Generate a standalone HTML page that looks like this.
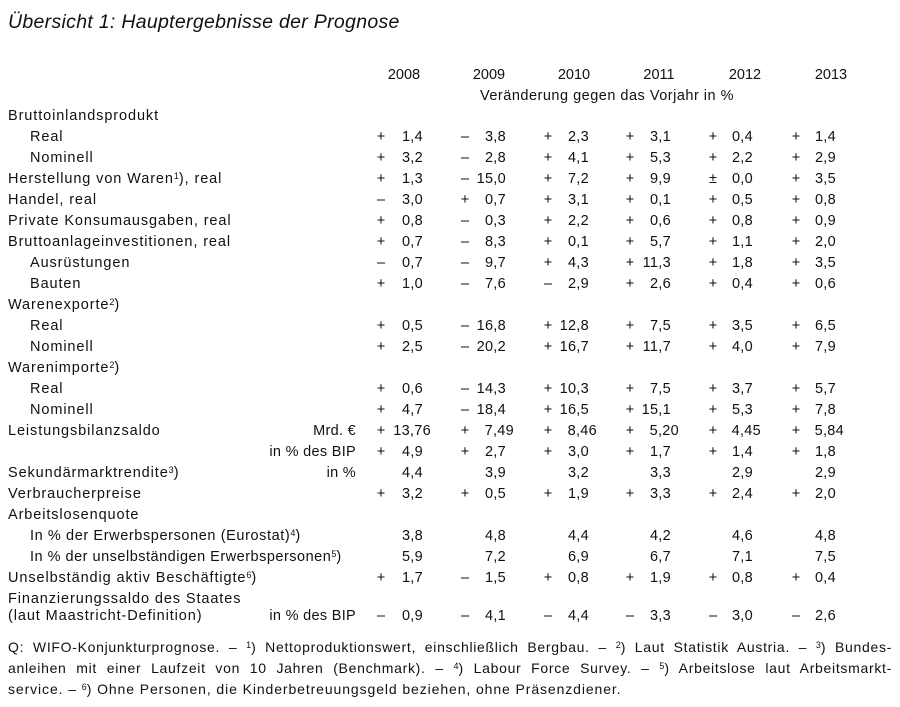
<!DOCTYPE html>
<html><head><meta charset="utf-8"><style>
body{margin:0;width:900px;height:707px;background:#fff;position:relative;overflow:hidden;font-family:"Liberation Sans",sans-serif;color:#111;font-size:14.5px}
div{position:absolute;white-space:nowrap;line-height:18px}
.t{left:8px;top:13px;font-size:19.5px;font-style:italic;letter-spacing:0.3px}
.l{left:8px;letter-spacing:0.9px}.i{left:30px;letter-spacing:0.9px}
.m{right:544px;text-align:right;letter-spacing:0.3px}
.y{width:60px;text-align:center;top:66px}
.s{width:14px;text-align:center}
.n{width:60px;text-align:right;letter-spacing:0.3px}
sup{font-size:9px;vertical-align:4px;line-height:0;letter-spacing:0}
.f{left:8px;width:884px;font-size:14px;text-align:justify;text-align-last:justify;letter-spacing:0.7px}
</style></head><body>
<div class="t">Übersicht 1: Hauptergebnisse der Prognose</div>
<div class="y" style="left:374px">2008</div>
<div class="y" style="left:459px">2009</div>
<div class="y" style="left:544px">2010</div>
<div class="y" style="left:629px">2011</div>
<div class="y" style="left:715px">2012</div>
<div class="y" style="left:801px">2013</div>
<div style="left:480px;top:87px;letter-spacing:0.5px">Veränderung gegen das Vorjahr in %</div>

<div class="l" style="top:107px">Bruttoinlandsprodukt</div>
<div class="i" style="top:128px">Real</div>
<div class="i" style="top:149px">Nominell</div>
<div class="l" style="top:170px">Herstellung von Waren<sup>1</sup>), real</div>
<div class="l" style="top:191px">Handel, real</div>
<div class="l" style="top:212px">Private Konsumausgaben, real</div>
<div class="l" style="top:233px">Bruttoanlageinvestitionen, real</div>
<div class="i" style="top:254px">Ausrüstungen</div>
<div class="i" style="top:275px">Bauten</div>
<div class="l" style="top:296px">Warenexporte<sup>2</sup>)</div>
<div class="i" style="top:317px">Real</div>
<div class="i" style="top:338px">Nominell</div>
<div class="l" style="top:359px">Warenimporte<sup>2</sup>)</div>
<div class="i" style="top:380px">Real</div>
<div class="i" style="top:401px">Nominell</div>
<div class="l" style="top:422px">Leistungsbilanzsaldo</div>
<div class="m" style="top:422px">Mrd. €</div>
<div class="m" style="top:443px">in % des BIP</div>
<div class="l" style="top:464px">Sekundärmarktrendite<sup>3</sup>)</div>
<div class="m" style="top:464px">in %</div>
<div class="l" style="top:485px">Verbraucherpreise</div>
<div class="l" style="top:506px">Arbeitslosenquote</div>
<div class="i" style="top:527px;letter-spacing:0.6px">In % der Erwerbspersonen (Eurostat)<sup>4</sup>)</div>
<div class="i" style="top:548px;letter-spacing:0.5px">In % der unselbständigen Erwerbspersonen<sup>5</sup>)</div>
<div class="l" style="top:569px">Unselbständig aktiv Beschäftigte<sup>6</sup>)</div>
<div class="l" style="top:590px">Finanzierungssaldo des Staates</div>
<div class="l" style="top:607px">(laut Maastricht-Definition)</div>
<div class="m" style="top:607px">in % des BIP</div>

<div style="top:128px;left:0;width:900px;height:20px"><div class="s" style="left:374px">+</div><div class="n" style="left:363px">1,4</div><div class="s" style="left:458px">–</div><div class="n" style="left:446px">3,8</div><div class="s" style="left:541px">+</div><div class="n" style="left:529px">2,3</div><div class="s" style="left:623px">+</div><div class="n" style="left:611px">3,1</div><div class="s" style="left:706px">+</div><div class="n" style="left:693px">0,4</div><div class="s" style="left:789px">+</div><div class="n" style="left:776px">1,4</div></div>
<div style="top:149px;left:0;width:900px;height:20px"><div class="s" style="left:374px">+</div><div class="n" style="left:363px">3,2</div><div class="s" style="left:458px">–</div><div class="n" style="left:446px">2,8</div><div class="s" style="left:541px">+</div><div class="n" style="left:529px">4,1</div><div class="s" style="left:623px">+</div><div class="n" style="left:611px">5,3</div><div class="s" style="left:706px">+</div><div class="n" style="left:693px">2,2</div><div class="s" style="left:789px">+</div><div class="n" style="left:776px">2,9</div></div>
<div style="top:170px;left:0;width:900px;height:20px"><div class="s" style="left:374px">+</div><div class="n" style="left:363px">1,3</div><div class="s" style="left:458px">–</div><div class="n" style="left:446px">15,0</div><div class="s" style="left:541px">+</div><div class="n" style="left:529px">7,2</div><div class="s" style="left:623px">+</div><div class="n" style="left:611px">9,9</div><div class="s" style="left:706px">±</div><div class="n" style="left:693px">0,0</div><div class="s" style="left:789px">+</div><div class="n" style="left:776px">3,5</div></div>
<div style="top:191px;left:0;width:900px;height:20px"><div class="s" style="left:374px">–</div><div class="n" style="left:363px">3,0</div><div class="s" style="left:458px">+</div><div class="n" style="left:446px">0,7</div><div class="s" style="left:541px">+</div><div class="n" style="left:529px">3,1</div><div class="s" style="left:623px">+</div><div class="n" style="left:611px">0,1</div><div class="s" style="left:706px">+</div><div class="n" style="left:693px">0,5</div><div class="s" style="left:789px">+</div><div class="n" style="left:776px">0,8</div></div>
<div style="top:212px;left:0;width:900px;height:20px"><div class="s" style="left:374px">+</div><div class="n" style="left:363px">0,8</div><div class="s" style="left:458px">–</div><div class="n" style="left:446px">0,3</div><div class="s" style="left:541px">+</div><div class="n" style="left:529px">2,2</div><div class="s" style="left:623px">+</div><div class="n" style="left:611px">0,6</div><div class="s" style="left:706px">+</div><div class="n" style="left:693px">0,8</div><div class="s" style="left:789px">+</div><div class="n" style="left:776px">0,9</div></div>
<div style="top:233px;left:0;width:900px;height:20px"><div class="s" style="left:374px">+</div><div class="n" style="left:363px">0,7</div><div class="s" style="left:458px">–</div><div class="n" style="left:446px">8,3</div><div class="s" style="left:541px">+</div><div class="n" style="left:529px">0,1</div><div class="s" style="left:623px">+</div><div class="n" style="left:611px">5,7</div><div class="s" style="left:706px">+</div><div class="n" style="left:693px">1,1</div><div class="s" style="left:789px">+</div><div class="n" style="left:776px">2,0</div></div>
<div style="top:254px;left:0;width:900px;height:20px"><div class="s" style="left:374px">–</div><div class="n" style="left:363px">0,7</div><div class="s" style="left:458px">–</div><div class="n" style="left:446px">9,7</div><div class="s" style="left:541px">+</div><div class="n" style="left:529px">4,3</div><div class="s" style="left:623px">+</div><div class="n" style="left:611px">11,3</div><div class="s" style="left:706px">+</div><div class="n" style="left:693px">1,8</div><div class="s" style="left:789px">+</div><div class="n" style="left:776px">3,5</div></div>
<div style="top:275px;left:0;width:900px;height:20px"><div class="s" style="left:374px">+</div><div class="n" style="left:363px">1,0</div><div class="s" style="left:458px">–</div><div class="n" style="left:446px">7,6</div><div class="s" style="left:541px">–</div><div class="n" style="left:529px">2,9</div><div class="s" style="left:623px">+</div><div class="n" style="left:611px">2,6</div><div class="s" style="left:706px">+</div><div class="n" style="left:693px">0,4</div><div class="s" style="left:789px">+</div><div class="n" style="left:776px">0,6</div></div>
<div style="top:317px;left:0;width:900px;height:20px"><div class="s" style="left:374px">+</div><div class="n" style="left:363px">0,5</div><div class="s" style="left:458px">–</div><div class="n" style="left:446px">16,8</div><div class="s" style="left:541px">+</div><div class="n" style="left:529px">12,8</div><div class="s" style="left:623px">+</div><div class="n" style="left:611px">7,5</div><div class="s" style="left:706px">+</div><div class="n" style="left:693px">3,5</div><div class="s" style="left:789px">+</div><div class="n" style="left:776px">6,5</div></div>
<div style="top:338px;left:0;width:900px;height:20px"><div class="s" style="left:374px">+</div><div class="n" style="left:363px">2,5</div><div class="s" style="left:458px">–</div><div class="n" style="left:446px">20,2</div><div class="s" style="left:541px">+</div><div class="n" style="left:529px">16,7</div><div class="s" style="left:623px">+</div><div class="n" style="left:611px">11,7</div><div class="s" style="left:706px">+</div><div class="n" style="left:693px">4,0</div><div class="s" style="left:789px">+</div><div class="n" style="left:776px">7,9</div></div>
<div style="top:380px;left:0;width:900px;height:20px"><div class="s" style="left:374px">+</div><div class="n" style="left:363px">0,6</div><div class="s" style="left:458px">–</div><div class="n" style="left:446px">14,3</div><div class="s" style="left:541px">+</div><div class="n" style="left:529px">10,3</div><div class="s" style="left:623px">+</div><div class="n" style="left:611px">7,5</div><div class="s" style="left:706px">+</div><div class="n" style="left:693px">3,7</div><div class="s" style="left:789px">+</div><div class="n" style="left:776px">5,7</div></div>
<div style="top:401px;left:0;width:900px;height:20px"><div class="s" style="left:374px">+</div><div class="n" style="left:363px">4,7</div><div class="s" style="left:458px">–</div><div class="n" style="left:446px">18,4</div><div class="s" style="left:541px">+</div><div class="n" style="left:529px">16,5</div><div class="s" style="left:623px">+</div><div class="n" style="left:611px">15,1</div><div class="s" style="left:706px">+</div><div class="n" style="left:693px">5,3</div><div class="s" style="left:789px">+</div><div class="n" style="left:776px">7,8</div></div>
<div style="top:422px;left:0;width:900px;height:20px"><div class="s" style="left:374px">+</div><div class="n" style="left:371px">13,76</div><div class="s" style="left:458px">+</div><div class="n" style="left:454px">7,49</div><div class="s" style="left:541px">+</div><div class="n" style="left:537px">8,46</div><div class="s" style="left:623px">+</div><div class="n" style="left:619px">5,20</div><div class="s" style="left:706px">+</div><div class="n" style="left:701px">4,45</div><div class="s" style="left:789px">+</div><div class="n" style="left:784px">5,84</div></div>
<div style="top:443px;left:0;width:900px;height:20px"><div class="s" style="left:374px">+</div><div class="n" style="left:363px">4,9</div><div class="s" style="left:458px">+</div><div class="n" style="left:446px">2,7</div><div class="s" style="left:541px">+</div><div class="n" style="left:529px">3,0</div><div class="s" style="left:623px">+</div><div class="n" style="left:611px">1,7</div><div class="s" style="left:706px">+</div><div class="n" style="left:693px">1,4</div><div class="s" style="left:789px">+</div><div class="n" style="left:776px">1,8</div></div>
<div style="top:464px;left:0;width:900px;height:20px"><div class="n" style="left:363px">4,4</div><div class="n" style="left:446px">3,9</div><div class="n" style="left:529px">3,2</div><div class="n" style="left:611px">3,3</div><div class="n" style="left:693px">2,9</div><div class="n" style="left:776px">2,9</div></div>
<div style="top:485px;left:0;width:900px;height:20px"><div class="s" style="left:374px">+</div><div class="n" style="left:363px">3,2</div><div class="s" style="left:458px">+</div><div class="n" style="left:446px">0,5</div><div class="s" style="left:541px">+</div><div class="n" style="left:529px">1,9</div><div class="s" style="left:623px">+</div><div class="n" style="left:611px">3,3</div><div class="s" style="left:706px">+</div><div class="n" style="left:693px">2,4</div><div class="s" style="left:789px">+</div><div class="n" style="left:776px">2,0</div></div>
<div style="top:527px;left:0;width:900px;height:20px"><div class="n" style="left:363px">3,8</div><div class="n" style="left:446px">4,8</div><div class="n" style="left:529px">4,4</div><div class="n" style="left:611px">4,2</div><div class="n" style="left:693px">4,6</div><div class="n" style="left:776px">4,8</div></div>
<div style="top:548px;left:0;width:900px;height:20px"><div class="n" style="left:363px">5,9</div><div class="n" style="left:446px">7,2</div><div class="n" style="left:529px">6,9</div><div class="n" style="left:611px">6,7</div><div class="n" style="left:693px">7,1</div><div class="n" style="left:776px">7,5</div></div>
<div style="top:569px;left:0;width:900px;height:20px"><div class="s" style="left:374px">+</div><div class="n" style="left:363px">1,7</div><div class="s" style="left:458px">–</div><div class="n" style="left:446px">1,5</div><div class="s" style="left:541px">+</div><div class="n" style="left:529px">0,8</div><div class="s" style="left:623px">+</div><div class="n" style="left:611px">1,9</div><div class="s" style="left:706px">+</div><div class="n" style="left:693px">0,8</div><div class="s" style="left:789px">+</div><div class="n" style="left:776px">0,4</div></div>
<div style="top:607px;left:0;width:900px;height:20px"><div class="s" style="left:374px">–</div><div class="n" style="left:363px">0,9</div><div class="s" style="left:458px">–</div><div class="n" style="left:446px">4,1</div><div class="s" style="left:541px">–</div><div class="n" style="left:529px">4,4</div><div class="s" style="left:623px">–</div><div class="n" style="left:611px">3,3</div><div class="s" style="left:706px">–</div><div class="n" style="left:693px">3,0</div><div class="s" style="left:789px">–</div><div class="n" style="left:776px">2,6</div></div>

<div class="f" style="top:638px">Q: WIFO-Konjunkturprognose. – <sup>1</sup>) Nettoproduktionswert, einschließlich Bergbau. – <sup>2</sup>) Laut Statistik Austria. – <sup>3</sup>) Bundes-</div>
<div class="f" style="top:659px">anleihen mit einer Laufzeit von 10 Jahren (Benchmark). – <sup>4</sup>) Labour Force Survey. – <sup>5</sup>) Arbeitslose laut Arbeitsmarkt-</div>
<div style="left:8px;top:680px;font-size:14px;letter-spacing:0.9px">service. – <sup>6</sup>) Ohne Personen, die Kinderbetreuungsgeld beziehen, ohne Präsenzdiener.</div>
</body></html>
